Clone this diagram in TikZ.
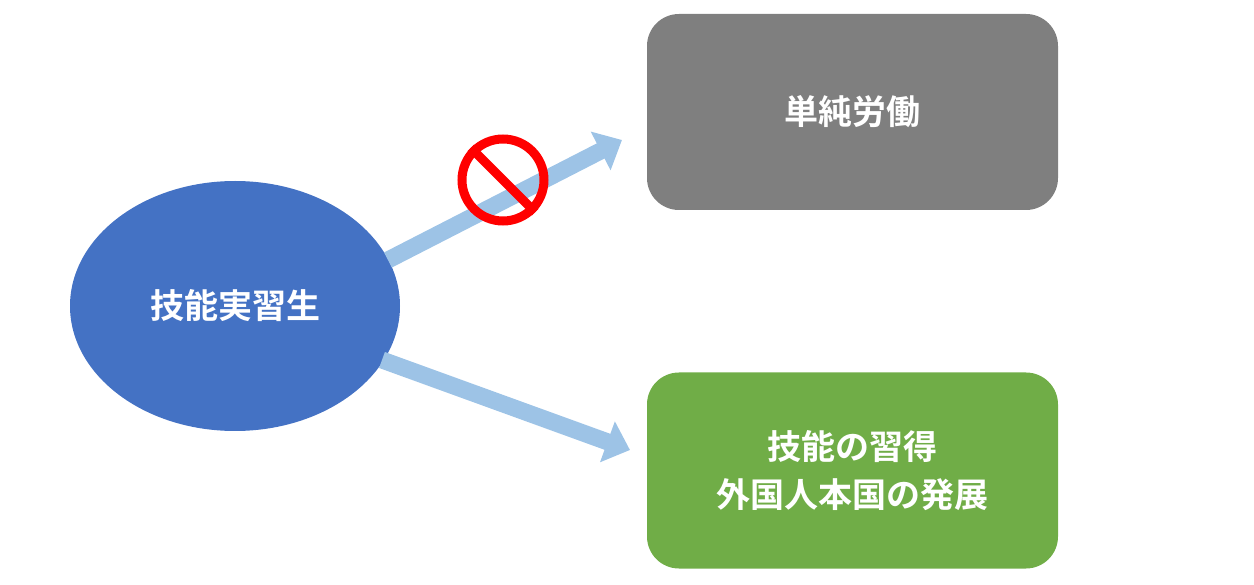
\documentclass[tikz,border=0pt]{standalone}
\usepackage{fontspec}
\newfontfamily\cjk[BoldFont={Noto Sans CJK JP Bold}]{Noto Sans CJK JP}
\usetikzlibrary{shapes.geometric,arrows.meta}
\definecolor{eblue}{HTML}{4472C4}
\definecolor{bgray}{HTML}{7F7F7F}
\definecolor{bgreen}{HTML}{70AD47}
\definecolor{arr}{HTML}{9DC3E6}
\begin{document}
\begin{tikzpicture}[x=1pt,y=-1pt,
  txt/.style={text=white,font=\cjk\bfseries\fontsize{34}{48}\selectfont,align=center},
  box/.style={txt,rounded corners=32pt,minimum width=411pt,minimum height=196pt,inner sep=0pt},
  fat/.style={arr,line width=17pt,-{Triangle[length=24pt,width=42pt]}}]
\useasboundingbox (0,0) rectangle (1254,585);
\node[txt,ellipse,fill=eblue,minimum width=330pt,minimum height=250pt,inner sep=0pt] (e) at (235,306) {技能実習生};
\node[box,fill=bgray] (a) at (852.5,112) {単純労働};
\node[box,fill=bgreen] (b) at (852.5,470.5) {技能の習得\\外国人本国の発展};
\coordinate (s1) at (388,260); \coordinate (t1) at (622,140);
\coordinate (s2) at (382,360); \coordinate (t2) at (630,450);
\draw[fat] (s1) -- (t1);
\draw[fat] (s2) -- (t2);
\node[circle,draw=red,line width=9pt,minimum size=82pt,inner sep=0pt] (no) at (503,180) {};
\draw[red,line width=9pt] (no.135) -- (no.-45);
\end{tikzpicture}
\end{document}
